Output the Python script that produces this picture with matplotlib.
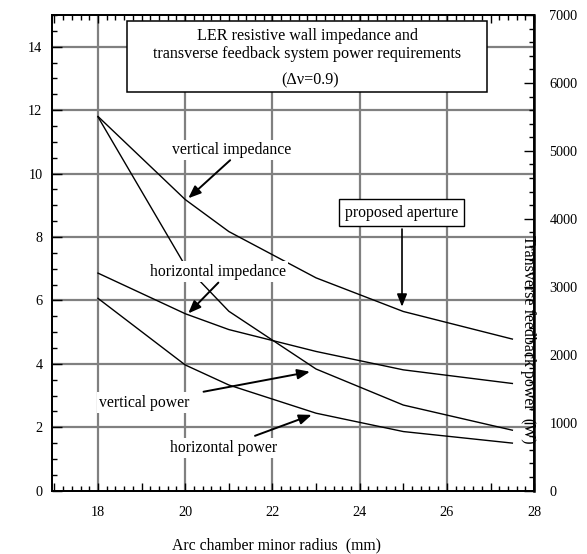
import matplotlib
matplotlib.use("Agg")
import matplotlib.pyplot as plt
from matplotlib.patches import Rectangle
from matplotlib.ticker import MultipleLocator, FuncFormatter
import numpy as np

plt.rcParams['font.family'] = ['Liberation Serif', 'DejaVu Serif']

# arc chamber minor radius (mm)
radius = [18, 20, 21, 23, 25, 27.5]

# resistive wall impedance (left axis)
vert_impedance = [11.8, 9.18, 8.17, 6.71, 5.65, 4.78]
horiz_impedance = [6.86, 5.58, 5.08, 4.39, 3.81, 3.38]

# feedback power (W, right axis)
vert_power = [5500, 3310, 2640, 1790, 1260, 890]
horiz_power = [2830, 1850, 1555, 1140, 870, 700]

fig = plt.figure(figsize=(5.87, 5.54), dpi=100)
ax1 = fig.add_axes([0.0889, 0.1143, 0.8211, 0.8587])
ax2 = ax1.twinx()

ax1.set_xlim(16.95, 28)
ax1.set_ylim(0, 15)
ax2.set_ylim(0, 7000)

# grid only on even values
gcol = '#808080'
for gx in range(18, 28, 2):
    ax1.axvline(gx, color=gcol, lw=1.6, zorder=1)
for gy in range(2, 16, 2):
    ax1.axhline(gy, color=gcol, lw=1.6, zorder=1)

ax1.plot(radius, vert_impedance, color='k', lw=1.0, zorder=3)
ax1.plot(radius, horiz_impedance, color='k', lw=1.0, zorder=3)
ax2.plot(radius, vert_power, color='k', lw=1.0, zorder=3)
ax2.plot(radius, horiz_power, color='k', lw=1.0, zorder=3)

# ticks
ax1.xaxis.set_major_locator(MultipleLocator(1))
ax1.xaxis.set_minor_locator(MultipleLocator(0.2))
ax1.xaxis.set_major_formatter(FuncFormatter(lambda v, p: f"{v:.0f}" if int(round(v)) % 2 == 0 else ""))
ax1.yaxis.set_major_locator(MultipleLocator(2))
ax1.yaxis.set_minor_locator(MultipleLocator(0.5))
ax2.yaxis.set_major_locator(MultipleLocator(1000))
ax2.yaxis.set_minor_locator(MultipleLocator(200))

ax1.tick_params(axis='x', which='major', direction='in', length=6, width=1, top=True, labelsize=10.3, pad=11)
ax1.tick_params(axis='x', which='minor', direction='in', length=3.5, width=1, top=True)
ax1.tick_params(axis='y', which='major', direction='in', length=7.5, width=1, right=False, labelsize=10.3, pad=7)
ax1.tick_params(axis='y', which='minor', direction='in', length=3.5, width=1, right=False)
ax2.tick_params(axis='y', which='major', direction='in', length=7.5, width=1, labelsize=10.3, pad=11)
ax2.tick_params(axis='y', which='minor', direction='in', length=3.5, width=1)

for ax in (ax1, ax2):
    for s in ax.spines.values():
        s.set_linewidth(1.3)
ax2.spines['right'].set_linewidth(1.8)

fig.text(277 / 587, 1 - 545 / 554, "Arc chamber minor radius  (mm)", ha='center', va='center', fontsize=11.3)
fig.text(528 / 587, 1 - 339 / 554, "Transverse feedback power  (W)", ha='center', va='center',
         rotation=270, fontsize=11.5, zorder=10)

# title box
ax2.add_patch(Rectangle((0.1556, 0.838), 0.7469, 0.1494, transform=ax2.transAxes,
                        facecolor='white', edgecolor='k', lw=1.1, zorder=5))
ax2.text(0.529, 0.955, "LER resistive wall impedance and", transform=ax2.transAxes,
         ha='center', va='center', fontsize=11.6, zorder=6)
ax2.text(0.529, 0.918, "transverse feedback system power requirements", transform=ax2.transAxes,
         ha='center', va='center', fontsize=11.6, zorder=6)
ax2.text(0.534, 0.863, "(\u0394\u03bd=0.9)", transform=ax2.transAxes,
         ha='center', va='center', fontsize=11.6, zorder=6)

# curve labels, drawn over the grid and curves
labels = [
    ("vertical impedance", 21.07, 10.74, (21.03, 10.42), (20.07, 9.22)),
    ("horizontal impedance", 20.76, 6.91, (20.76, 6.56), (20.07, 5.59)),
    ("vertical power", 19.07, 2.78, (20.42, 3.12), (22.86, 3.75)),
    ("horizontal power", 20.87, 1.35, (21.60, 1.73), (22.90, 2.39)),
]
for txt, tx, ty, tail, head in labels:
    ax2.text(tx, ty, txt, transform=ax1.transData, ha='center', va='center', fontsize=11.3,
             bbox=dict(facecolor='white', edgecolor='none', pad=1.5), zorder=6)
    ax2.annotate('', xy=head, xytext=tail, xycoords=ax1.transData, textcoords=ax1.transData,
                 arrowprops=dict(arrowstyle='-|>,head_length=0.75,head_width=0.3', color='k',
                                 lw=1.4, shrinkA=0, shrinkB=0, mutation_scale=10), zorder=7)

ax2.text(24.96, 8.76, "proposed aperture", transform=ax1.transData, ha='center', va='center',
         fontsize=11.3, bbox=dict(boxstyle='square,pad=0.35', facecolor='white', edgecolor='k', lw=1.0),
         zorder=6)
ax2.annotate('', xy=(24.97, 5.80), xytext=(24.97, 8.25), xycoords=ax1.transData, textcoords=ax1.transData,
             arrowprops=dict(arrowstyle='-|>,head_length=0.75,head_width=0.3', color='k',
                             lw=1.2, shrinkA=0, shrinkB=0, mutation_scale=10), zorder=7)

fig.savefig("out.png", dpi=100)
